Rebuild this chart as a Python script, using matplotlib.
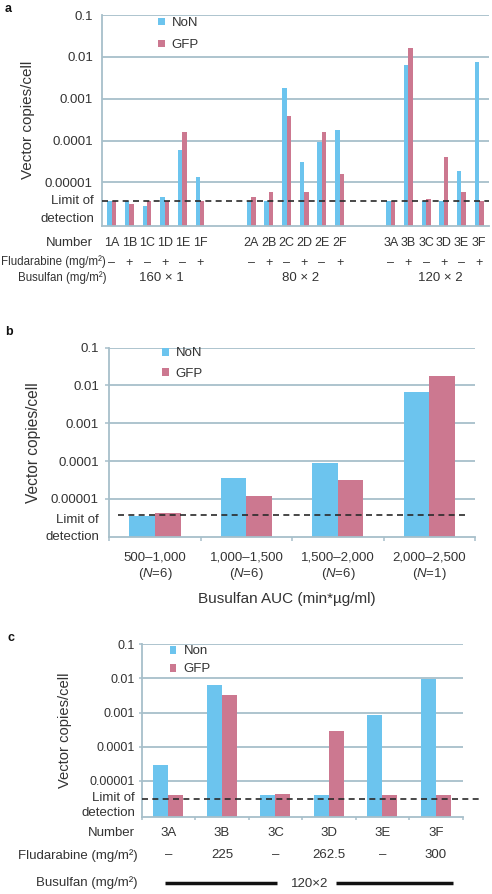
import matplotlib
matplotlib.use('Agg')
import matplotlib.pyplot as plt
from matplotlib import transforms
from matplotlib.ticker import NullLocator, FixedLocator

plt.rcParams['font.family'] = ['Liberation Sans', 'DejaVu Sans']
plt.rcParams['mathtext.fontset'] = 'custom'
plt.rcParams['mathtext.rm'] = 'Liberation Sans'
plt.rcParams['mathtext.it'] = 'Liberation Sans:italic'

# ---------------- data ----------------
a_numbers = ['1A', '1B', '1C', '1D', '1E', '1F',
             '2A', '2B', '2C', '2D', '2E', '2F',
             '3A', '3B', '3C', '3D', '3E', '3F']
a_fludarabine = ['–', '+', '–', '+', '–', '+'] * 3
a_busulfan = ['160 × 1', '80 × 2', '120 × 2']
a_non = [3.5e-6, 3.5e-6, 2.7e-6, 4.4e-6, 5.9e-5, 1.32e-5,
         3.5e-6, 3.5e-6, 1.77e-3, 3.1e-5, 9.4e-5, 1.78e-4,
         3.5e-6, 6.4e-3, 3.5e-6, 3.5e-6, 1.9e-5, 7.7e-3]
a_gfp = [3.5e-6, 3.0e-6, 3.5e-6, 3.5e-6, 1.57e-4, 3.5e-6,
         4.4e-6, 6.0e-6, 3.9e-4, 6.0e-6, 1.57e-4, 1.58e-5,
         3.5e-6, 1.6e-2, 3.9e-6, 3.96e-5, 6.0e-6, 3.5e-6]
a_lod = 3.5e-6

b_categories = ['500–1,000', '1,000–1,500', '1,500–2,000', '2,000–2,500']
b_n = [6, 6, 6, 1]
b_non = [3.6e-6, 3.6e-5, 8.65e-5, 6.8e-3]
b_gfp = [4.3e-6, 1.23e-5, 3.13e-5, 1.78e-2]
b_lod = 3.7e-6

c_numbers = ['3A', '3B', '3C', '3D', '3E', '3F']
c_fludarabine = ['–', '225', '–', '262.5', '–', '300']
c_busulfan = '120×2'
c_non = [2.9e-5, 6.4e-3, 3.8e-6, 3.8e-6, 8.65e-4, 9.6e-3]
c_gfp = [3.8e-6, 3.27e-3, 4.2e-6, 2.8e-4, 3.8e-6, 3.8e-6]
c_lod = 3.0e-6

ytick_vals = [1e-5, 1e-4, 1e-3, 1e-2, 1e-1]
ytick_labels = ['0.00001', '0.0001', '0.001', '0.01', '0.1']

# ---------------- style ----------------
W, H = 492, 894
BLUE = '#6cc4ee'
PINK = '#cc7890'
GRID = '#a7bfca'
TXT = '#333333'
DASH = '#2a2a2a'

fig = plt.figure(figsize=(W / 100, H / 100), dpi=100)


def rect(l, t, r, b):
    return [l / W, 1 - b / H, (r - l) / W, (b - t) / H]


def fy(y):
    return 1 - y / H


def style(ax, ymin, ticklen, pad, lsize):
    ax.set_yscale('log')
    ax.set_ylim(ymin, 0.1)
    ax.yaxis.set_major_locator(FixedLocator(ytick_vals))
    ax.set_yticklabels(ytick_labels)
    ax.yaxis.set_minor_locator(NullLocator())
    for y in ytick_vals:
        ax.axhline(y, color=GRID, lw=1.3, zorder=0)
    for s in ['top', 'right']:
        ax.spines[s].set_visible(False)
    for s in ['left', 'bottom']:
        ax.spines[s].set_color(GRID)
        ax.spines[s].set_linewidth(1.3)
    ax.tick_params(axis='y', which='major', length=ticklen, width=1.1, color=GRID,
                   labelsize=lsize, labelcolor=TXT, pad=pad)
    ax.set_facecolor('none')


def legend(ax, handles, labels, x, y, spacing):
    ax.legend(handles, labels, loc='upper left', bbox_to_anchor=(x / W, fy(y)),
              bbox_transform=fig.transFigure, frameon=False, fontsize=9.5,
              handlelength=0.5, handleheight=0.5, handletextpad=0.55,
              labelspacing=spacing, borderpad=0, borderaxespad=0,
              labelcolor=TXT)


# ================= panel a =================
ax = fig.add_axes(rect(101.7, 15, 489, 225.7))
style(ax, 9.2e-7, 0, 6.3, 9.5)
xa = [(i // 6) * 7.9 + (i % 6) for i in range(len(a_numbers))]
bw = 0.25
h1 = ax.bar([x - bw / 2 for x in xa], a_non, width=bw, color=BLUE, zorder=2)
h2 = ax.bar([x + bw / 2 for x in xa], a_gfp, width=bw, color=PINK, zorder=2)
ax.set_xlim(-0.566, 21.36)
ax.set_xticks([])
ax.plot([0, 1], [a_lod, a_lod], transform=ax.get_yaxis_transform(), color=DASH,
        lw=1.2, ls=(0, (3.6, 2.6)), zorder=3, clip_on=False)
ax.set_ylabel('Vector copies/cell', fontsize=11, color=TXT)
ax.yaxis.set_label_coords((35 - 101.7) / (489 - 101.7), 0.5)
legend(ax, [h1, h2], ['NoN', 'GFP'], 158, 17, 0.78)
tr = transforms.blended_transform_factory(ax.transData, fig.transFigure)
for x, n, f in zip(xa, a_numbers, a_fludarabine):
    ax.text(x, fy(243), n, transform=tr, ha='center', va='center', fontsize=9, color=TXT)
    ax.text(x, fy(263), f, transform=tr, ha='center', va='center', fontsize=9, color=TXT)
for g, lbl in enumerate(a_busulfan):
    ax.text(g * 7.9 + 2.8, fy(278), lbl, transform=tr, ha='center', va='center',
            fontsize=9.5, color=TXT)
fig.text(93 / W, fy(243), 'Number', ha='right', va='center', fontsize=9.5, color=TXT)
fig.text(106 / W, fy(262), 'Fludarabine (mg/m²)', ha='right', va='center', fontsize=8.3, color=TXT)
fig.text(106 / W, fy(278), 'Busulfan (mg/m²)', ha='right', va='center', fontsize=8.3, color=TXT)
fig.text(94 / W, fy(201), 'Limit of', ha='right', va='center', fontsize=9.5, color=TXT)
fig.text(94 / W, fy(218.5), 'detection', ha='right', va='center', fontsize=9.5, color=TXT)
fig.text(5 / W, fy(9.5), 'a', ha='left', va='center', fontsize=9, fontweight='bold', color='#111111')

# ================= panel b =================
ax = fig.add_axes(rect(109.3, 347.7, 475, 536.7))
style(ax, 1e-6, 3, 4.5, 9.5)
xb = list(range(len(b_categories)))
bw = 0.28
h1 = ax.bar([x - bw / 2 for x in xb], b_non, width=bw, color=BLUE, zorder=2)
h2 = ax.bar([x + bw / 2 for x in xb], b_gfp, width=bw, color=PINK, zorder=2)
ax.set_xlim(-0.5, len(b_categories) - 0.5)
ax.set_xticks([x - 0.5 for x in xb] + [len(b_categories) - 0.5])
ax.set_xticklabels([])
ax.tick_params(axis='x', length=3, width=1.1, color=GRID)
ax.plot([0.024, 0.973], [b_lod, b_lod], transform=ax.get_yaxis_transform(), color=DASH,
        lw=1.2, ls=(0, (3.6, 2.6)), zorder=3, clip_on=False)
ax.set_ylabel('Vector copies/cell', fontsize=11.2, color=TXT)
ax.yaxis.set_label_coords((41 - 109.3) / (475 - 109.3), 0.5)
legend(ax, [h1, h2], ['NoN', 'GFP'], 162, 347.5, 0.62)
tr = transforms.blended_transform_factory(ax.transData, fig.transFigure)
for x, cat, n in zip(xb, b_categories, b_n):
    ax.text(x, fy(558), cat, transform=tr, ha='center', va='center', fontsize=9.5, color=TXT)
    ax.text(x, fy(573.5), '(' + r'$\it{N}$' + '=%d)' % n, transform=tr, ha='center',
            va='center', fontsize=9.5, color=TXT)
fig.text(287 / W, fy(599.5), 'Busulfan AUC (min*µg/ml)', ha='center', va='center',
         fontsize=11, color=TXT)
fig.text(99 / W, fy(520), 'Limit of', ha='right', va='center', fontsize=9.5, color=TXT)
fig.text(99 / W, fy(536.7), 'detection', ha='right', va='center', fontsize=9.5, color=TXT)
fig.text(5 / W, fy(332), 'b', ha='left', va='center', fontsize=9, fontweight='bold', color='#111111')

# ================= panel c =================
ax = fig.add_axes(rect(141.7, 644.3, 462.7, 816.7))
style(ax, 8.8e-7, 2.5, 2.6, 9)
xc = list(range(len(c_numbers)))
h1 = ax.bar([x - bw / 2 for x in xc], c_non, width=bw, color=BLUE, zorder=2)
h2 = ax.bar([x + bw / 2 for x in xc], c_gfp, width=bw, color=PINK, zorder=2)
ax.set_xlim(-0.5, len(c_numbers) - 0.5)
ax.set_xticks([x - 0.5 for x in xc] + [len(c_numbers) - 0.5])
ax.set_xticklabels([])
ax.tick_params(axis='x', length=2.5, width=1.1, color=GRID)
ax.plot([0, 1.063], [c_lod, c_lod], transform=ax.get_yaxis_transform(), color=DASH,
        lw=1.2, ls=(0, (3.6, 2.6)), zorder=3, clip_on=False)
ax.set_ylabel('Vector copies/cell', fontsize=10.6, color=TXT)
ax.yaxis.set_label_coords((72 - 141.7) / (462.7 - 141.7), 0.5)
legend(ax, [h1, h2], ['Non', 'GFP'], 169.7, 645.5, 0.45)
tr = transforms.blended_transform_factory(ax.transData, fig.transFigure)
for x, n, f in zip(xc, c_numbers, c_fludarabine):
    ax.text(x, fy(832.7), n, transform=tr, ha='center', va='center', fontsize=9.5, color=TXT)
    ax.text(x, fy(855.5), f, transform=tr, ha='center', va='center', fontsize=9.5, color=TXT)
trc = transforms.blended_transform_factory(ax.transAxes, fig.transFigure)
ax.plot([0.073, 0.42], [fy(883.3), fy(883.3)], transform=trc, color='#111111', lw=2.5,
        clip_on=False, solid_capstyle='butt')
ax.plot([0.605, 0.971], [fy(883.3), fy(883.3)], transform=trc, color='#111111', lw=2.5,
        clip_on=False, solid_capstyle='butt')
ax.text(0.522, fy(884), c_busulfan, transform=trc, ha='center', va='center',
        fontsize=9.5, color=TXT)
fig.text(135 / W, fy(832.7), 'Number', ha='right', va='center', fontsize=9.5, color=TXT)
fig.text(138 / W, fy(855.5), 'Fludarabine (mg/m²)', ha='right', va='center', fontsize=9.5, color=TXT)
fig.text(138 / W, fy(883), 'Busulfan (mg/m²)', ha='right', va='center', fontsize=9.5, color=TXT)
fig.text(135 / W, fy(798.3), 'Limit of', ha='right', va='center', fontsize=9.5, color=TXT)
fig.text(135 / W, fy(813.3), 'detection', ha='right', va='center', fontsize=9.5, color=TXT)
fig.text(8 / W, fy(637.7), 'c', ha='left', va='center', fontsize=9, fontweight='bold', color='#111111')

fig.savefig('out.png', dpi=100)
